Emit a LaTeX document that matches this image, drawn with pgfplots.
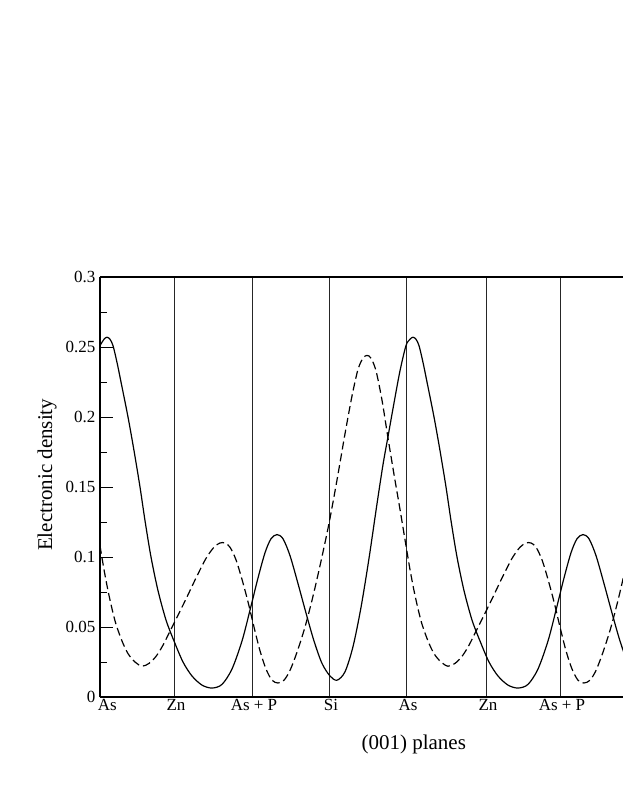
\documentclass[border=0pt]{standalone}
\usepackage{fontspec}
\setmainfont{Liberation Serif}
\usepackage{pgfplots}
\pgfplotsset{compat=1.18}

% x = distance from the first As plane (px of the original), one period = 306
\pgfplotstableread{
x y
0 0.251
4 0.2555
7 0.257
10 0.2555
13 0.251
17 0.239
21 0.225
28 0.200
34 0.176
40 0.150
45 0.126
51 0.100
58 0.076
66 0.055
74 0.040
83 0.025
92 0.015
102 0.0085
112 0.0064
122 0.009
132 0.020
142 0.040
150 0.062
158 0.085
165 0.103
171 0.113
177 0.116
183 0.113
190 0.101
198 0.081
206 0.060
214 0.040
222 0.024
230 0.015
237 0.012
245 0.018
253 0.036
261 0.064
269 0.099
277 0.138
283 0.166
288 0.186
294 0.210
300 0.233
306 0.251
310 0.2555
313 0.257
316 0.2555
319 0.251
323 0.239
327 0.225
334 0.200
340 0.176
346 0.150
351 0.126
357 0.100
364 0.076
372 0.055
380 0.040
389 0.025
398 0.015
408 0.0085
418 0.0064
428 0.009
438 0.020
448 0.040
456 0.062
464 0.085
471 0.103
477 0.113
483 0.116
489 0.113
496 0.101
504 0.081
512 0.060
520 0.040
528 0.024
536 0.015
}\solid

\pgfplotstableread{
x y
0 0.108
4 0.091
8 0.076
12 0.063
16 0.052
22 0.040
28 0.031
35 0.025
42 0.022
49 0.024
56 0.029
63 0.037
70 0.047
77 0.057
86 0.070
96 0.085
106 0.099
114 0.107
120 0.110
125 0.110
130 0.107
136 0.098
142 0.084
148 0.068
154 0.050
160 0.033
166 0.020
172 0.012
178 0.010
184 0.012
190 0.019
197 0.032
205 0.050
213 0.072
221 0.097
229 0.124
237 0.155
245 0.188
252 0.215
258 0.234
263 0.242
267 0.244
271 0.242
276 0.233
282 0.212
288 0.185
294 0.159
300 0.134
306 0.108
310 0.091
314 0.076
318 0.063
322 0.052
328 0.040
334 0.031
341 0.025
348 0.022
355 0.024
362 0.029
369 0.037
376 0.047
383 0.057
392 0.070
402 0.085
412 0.099
420 0.107
426 0.110
431 0.110
436 0.107
442 0.098
448 0.084
454 0.068
460 0.050
466 0.033
472 0.020
478 0.012
484 0.010
490 0.012
496 0.019
503 0.032
511 0.050
519 0.072
527 0.097
535 0.124
}\dashed

\begin{document}
\begin{tikzpicture}
\begin{axis}[
  scale only axis, width=392.25pt, height=315pt,
  xmin=0, xmax=523, ymin=0, ymax=0.3,
  axis x line*=box, axis y line*=left,
  axis line style={line width=0.8pt},
  xtick={0,74,152,229,306,386,460},
  xticklabels={\hspace{8pt}As,Zn,As + P,Si,As,Zn,As + P},
  major x tick style={draw=none},
  xmajorgrids, grid style={black!85, line width=0.6pt},
  ytick={0,0.05,0.1,0.15,0.2,0.25,0.3},
  yticklabels={0,0.05,0.1,0.15,0.2,0.25,0.3},
  minor y tick num=1, ytick pos=left, tick align=inside,
  major tick length=9.75pt, minor tick length=5pt,
  y tick style={black, line width=0.7pt},
  tick label style={font=\fontsize{12.75}{14}\selectfont},
  xticklabel style={yshift=2pt, xshift=1.5pt},
  xlabel={(001) planes}, ylabel={Electronic density},
  label style={font=\fontsize{15.75}{18}\selectfont},
  xlabel style={at={(axis description cs:0.600,-0.112)}, anchor=center},
  ylabel style={at={(axis description cs:-0.1013,0.529)}, anchor=center},
]
\addplot[black, line width=0.9pt, smooth, tension=0.5] table {\solid};
\addplot[black, line width=0.9pt, smooth, tension=0.5, dash pattern=on 6pt off 3pt] table {\dashed};
\end{axis}
\pgfresetboundingbox
\path[use as bounding box] (-75pt,-81.75pt) rectangle (392.25pt,522.75pt);
\end{tikzpicture}
\end{document}
